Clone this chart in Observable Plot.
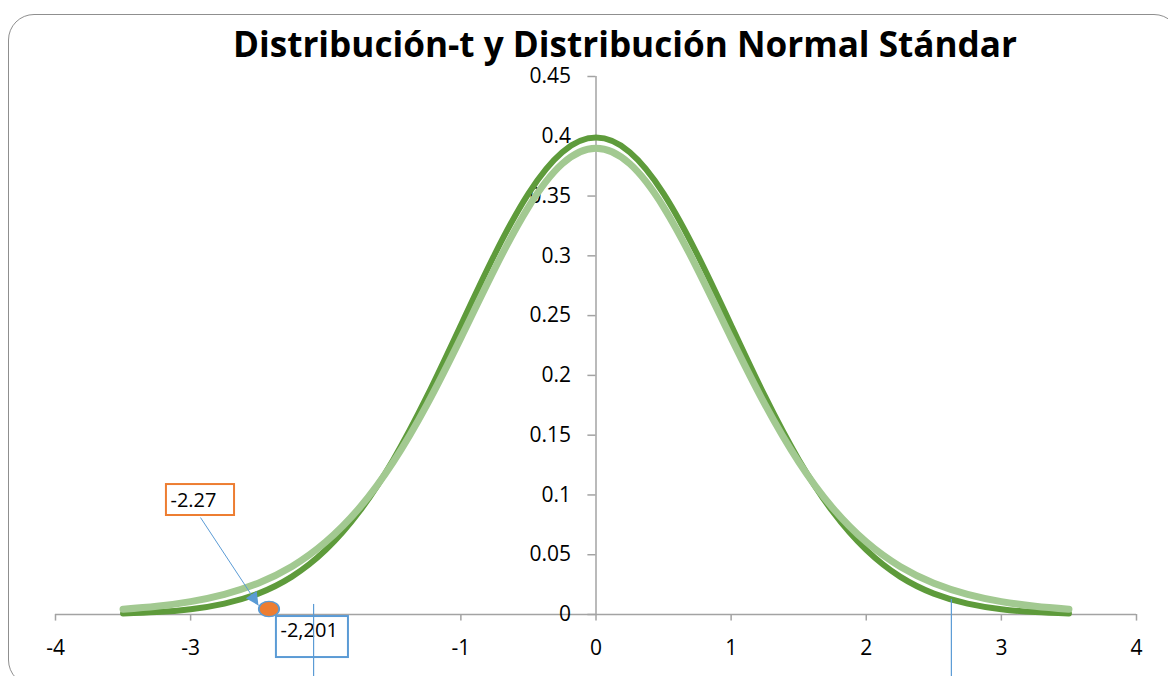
<!DOCTYPE html>
<html>
<head>
<meta charset="utf-8">
<script src="https://cdn.jsdelivr.net/npm/d3@7"></script>
<script src="https://cdn.jsdelivr.net/npm/@observablehq/plot@0.6"></script>
<style>
  html, body { margin: 0; padding: 0; background: #fff; }
  #wrap { position: relative; width: 1168px; height: 676px; overflow: hidden; }
  #frame { position: absolute; left: 8px; top: 14px; width: 1172px; height: 672px;
           border: 1.5px solid #8f8f8f; border-radius: 26px; box-sizing: border-box; }
  #chart { position: absolute; left: 0; top: 0; }
</style>
</head>
<body>
<div id="wrap"><div id="frame"></div><div id="chart"></div></div>
<script>
// ---- data ----
const title = "Distribución-t y Distribución Normal Stándar";
const xs = [-3.5,-3.25,-3,-2.75,-2.5,-2.25,-2,-1.75,-1.5,-1.25,-1,-0.75,-0.5,-0.25,0,
            0.25,0.5,0.75,1,1.25,1.5,1.75,2,2.25,2.5,2.75,3,3.25,3.5];
const normalY = [0.0009,0.0020,0.0044,0.0091,0.0175,0.0317,0.0540,0.0863,0.1295,0.1826,0.2420,0.3011,0.3521,0.3867,0.3989,
                 0.3867,0.3521,0.3011,0.2420,0.1826,0.1295,0.0863,0.0540,0.0317,0.0175,0.0091,0.0044,0.0020,0.0009];
const tY = [0.0044,0.0069,0.0108,0.0169,0.0262,0.0402,0.0607,0.0893,0.1277,0.1758,0.2314,0.2891,0.3408,0.3770,0.3900,
            0.3770,0.3408,0.2891,0.2314,0.1758,0.1277,0.0893,0.0607,0.0402,0.0262,0.0169,0.0108,0.0069,0.0044];
const xTicks = [-4,-3,-2,-1,0,1,2,3,4];
const xTickLabels = ["-4","-3","","-1","0","1","2","3","4"];
const yTicks = [0,0.05,0.1,0.15,0.2,0.25,0.3,0.35,0.4,0.45];
const yTickLabels = ["0","0.05","0.1","0.15","0.2","0.25","0.3","0.35","0.4","0.45"];
// annotations
const pointX = [-2.42], pointY = [0.0046];
const criticalLines = [{x: -2.09, top: 0.0084}, {x: 2.63, top: 0.0125}];
const labelOrange = {text: "-2.27", x: -3.149, y: 0.0949, x1: -3.179, x2: -2.675, y1: 0.0828, y2: 0.1087};
const labelBlue = {text: "-2,201", x: -2.335, y: -0.0134, x1: -2.365, x2: -1.832, y1: -0.036, y2: -0.0017};
const arrow = {x1: -2.927, y1: 0.0811, x2: -2.498, y2: 0.0075};

const normal = xs.map((x, i) => ({x, y: normalY[i]}));
const tdist = xs.map((x, i) => ({x, y: tY[i]}));

const darkGreen = "#5e9b3b", lightGreen = "#a2c991", axisGray = "#a3a3a3";
const blue = "#5b9bd5", orange = "#ed7d31";
const font = "'Open Sans', 'Liberation Sans', sans-serif";

const plot = Plot.plot({
  width: 1168, height: 676,
  marginLeft: 55, marginRight: 32, marginTop: 76, marginBottom: 62,
  x: {domain: [-4, 4], axis: null},
  y: {domain: [0, 0.45], axis: null},
  style: {fontFamily: font, background: "transparent", overflow: "visible"},
  marks: [
    // x axis
    Plot.ruleY([0], {x1: -4, x2: 4, stroke: axisGray, strokeWidth: 1.5}),
    Plot.ruleX(xTicks, {x: d => d, y1: 0, y2: -0.0055, stroke: axisGray, strokeWidth: 1.5}),
    Plot.text(xTicks, {x: d => d, y: 0, text: (d, i) => xTickLabels[i], dy: 34, fontSize: 21, fill: "#000", textAnchor: "middle"}),
    // y axis at x = 0
    Plot.ruleX([0], {y1: 0, y2: 0.45, stroke: axisGray, strokeWidth: 1.5}),
    Plot.ruleY(yTicks, {y: d => d, x1: -0.06, x2: 0, stroke: axisGray, strokeWidth: 1.5}),
    Plot.text(yTicks, {x: 0, y: d => d, text: (d, i) => yTickLabels[i], dx: -25, fontSize: 21, fill: "#000", textAnchor: "end"}),
    // curves
    Plot.line(normal, {x: "x", y: "y", stroke: darkGreen, strokeWidth: 6, curve: "natural", strokeLinecap: "round"}),
    Plot.line(tdist, {x: "x", y: "y", stroke: lightGreen, strokeWidth: 7, curve: "natural", strokeLinecap: "round"}),
    // annotation boxes
    Plot.rect([labelOrange], {x1: "x1", x2: "x2", y1: "y1", y2: "y2", fill: "white", stroke: orange, strokeWidth: 2}),
    Plot.text([labelOrange], {x: "x", y: "y", text: "text", textAnchor: "start", fontSize: 20, fill: "#000"}),
    Plot.rect([labelBlue], {x1: "x1", x2: "x2", y1: "y1", y2: "y2", fill: "white", stroke: blue, strokeWidth: 2}),
    Plot.text([labelBlue], {x: "x", y: "y", text: "text", textAnchor: "start", fontSize: 20, fill: "#000"}),
    // critical value lines
    Plot.ruleX(criticalLines, {x: "x", y1: -0.052, y2: "top", stroke: blue, strokeWidth: 1.2}),
    // arrow (line; a filled head is attached below)
    Plot.link([arrow], {x1: "x1", y1: "y1", x2: "x2", y2: "y2", stroke: blue, strokeWidth: 1}),
    // point
    Plot.dot(pointX.map((x, i) => ({x, y: pointY[i]})), {x: "x", y: "y", r: 8.5, fill: orange, stroke: blue, strokeWidth: 1.5})
  ]
});

const svg = d3.select(plot);
// filled arrow head marker
const defs = svg.insert("defs", ":first-child");
defs.append("marker")
  .attr("id", "ahead").attr("viewBox", "0 0 10 10")
  .attr("refX", 10).attr("refY", 5)
  .attr("markerWidth", 16).attr("markerHeight", 13)
  .attr("markerUnits", "userSpaceOnUse").attr("orient", "auto")
  .append("path").attr("d", "M0,0L10,5L0,10Z").attr("fill", blue);
svg.selectAll("g[aria-label='link'] path, g[aria-label='link'] line").attr("marker-end", "url(#ahead)");

// title
svg.append("text")
  .attr("x", 625).attr("y", 57)
  .attr("text-anchor", "middle")
  .attr("font-family", font)
  .attr("font-weight", "bold")
  .attr("font-size", 35)
  .attr("textLength", 784)
  .attr("lengthAdjust", "spacingAndGlyphs")
  .attr("fill", "#000")
  .text(title);

// make the orange point slightly elliptical like the reference
svg.selectAll("circle").each(function() {
  const c = d3.select(this);
  const cx = +c.attr("cx"), cy = +c.attr("cy");
  c.attr("transform", `translate(${cx},${cy}) scale(1.2,0.9) translate(${-cx},${-cy})`);
});

document.getElementById("chart").appendChild(plot);
</script>
</body>
</html>
